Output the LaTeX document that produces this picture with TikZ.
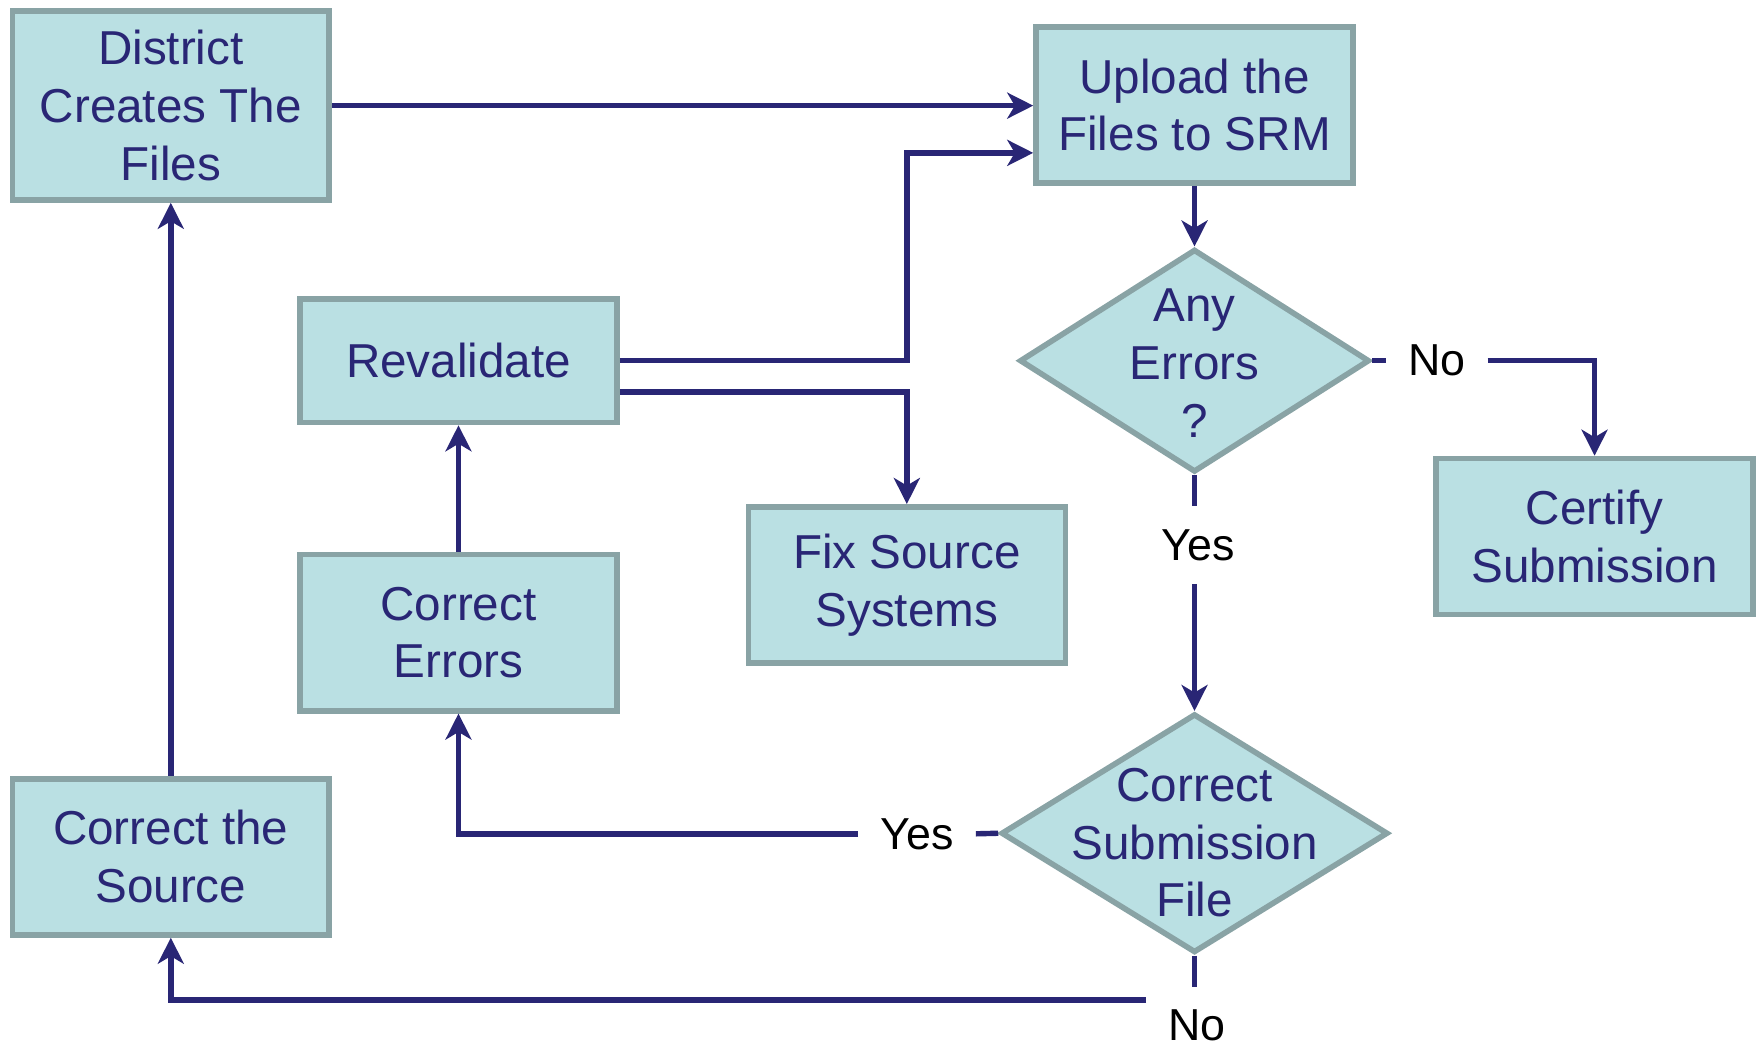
\documentclass[tikz,border=0pt]{standalone}
\usepackage{fontspec}
\setmainfont{Liberation Sans}
\usetikzlibrary{arrows.meta,shapes.geometric}
\definecolor{boxc}{RGB}{186,224,227}
\definecolor{bordc}{RGB}{137,163,165}
\definecolor{navy}{RGB}{41,38,117}
\begin{document}
\begin{tikzpicture}[x=0.5619pt,y=-0.5619pt,
  box/.style={draw=bordc,fill=boxc,line width=2.8pt,rectangle,align=center,
    text=navy,font=\fontsize{23.8}{28.9}\selectfont,inner sep=0pt,
    minimum width=158.5pt,minimum height=78.1pt},
  dia/.style={draw=bordc,fill=boxc,line width=2.8pt,diamond,inner sep=0pt},
  dtext/.style={align=center,text=navy,font=\fontsize{23.8}{28.9}\selectfont,inner sep=0pt},
  lbl/.style={font=\fontsize{22.4}{26}\selectfont,text=black,inner xsep=11pt,inner ysep=2pt},
  conn/.style={draw=navy,line width=2.7pt},
  tip/.style={-{Stealth[length=13pt,width=13pt,inset=3.8pt]}}
]
\useasboundingbox (0,0) rectangle (1568,932);
% boxes
\node[box,minimum height=94.4pt] (dist) at (152,94) {District\\Creates The\\Files};
\node[box] (upl) at (1063,93.5) {Upload the\\Files to SRM};
\node[box,minimum height=61.8pt] (reval) at (408,321) {Revalidate};
\node[box] (cert) at (1419,477.5) {Certify\\Submission};
\node[box] (fix) at (807,520.5) {Fix Source\\Systems};
\node[box] (cerr) at (408,563) {Correct\\Errors};
\node[box] (cts) at (152,762.5) {Correct the\\Source};
% diamonds
\node[dia,minimum width=175pt,minimum height=111.5pt] (ae) at (1063,321) {};
\node[dtext] (aet) at (1063,323) {Any\\Errors\\?};
\node[dia,minimum width=193.5pt,minimum height=119.5pt] (csf) at (1063,741.5) {};
\node[dtext] (csft) at (1063,750) {Correct\\Submission\\File};
% labels
\node[lbl] (no1) at (1278.5,321) {No};
\node[lbl] (yes1) at (1066,485) {Yes};
\node[lbl] (yes2) at (816,742) {Yes};
\node[lbl] (no2) at (1065,912) {No};
\coordinate (nb) at (1020,890);
% connectors
\draw[conn,tip] (dist.east) -- (dist.east -| upl.west);
\draw[conn,tip] (reval.east) -- (reval.east -| fix.north) |- ([yshift=-23.9pt]upl.west);
\draw[conn,tip] ([yshift=-15.7pt]reval.east) -| (fix.north);
\draw[conn,tip] (upl.south) -- (ae.north);
\draw[conn] (ae.east) -- (no1.west);
\draw[conn,tip] (no1.east) -| (cert.north);
\draw[conn] (ae.south) -- ++(0,28);
\draw[conn,tip] ([yshift=63.5pt]csf.north) -- (csf.north);
\draw[conn] (csf.west) -- (yes2.east);
\draw[conn,tip] (yes2.west) -| (cerr.south);
\draw[conn,tip] (cerr.north) -- (reval.south);
\draw[conn] (csf.south) -- ++(0,28);
\draw[conn,tip] (nb) -| (cts.south);
\draw[conn,tip] (cts.north) -- (dist.south);
\end{tikzpicture}
\end{document}
